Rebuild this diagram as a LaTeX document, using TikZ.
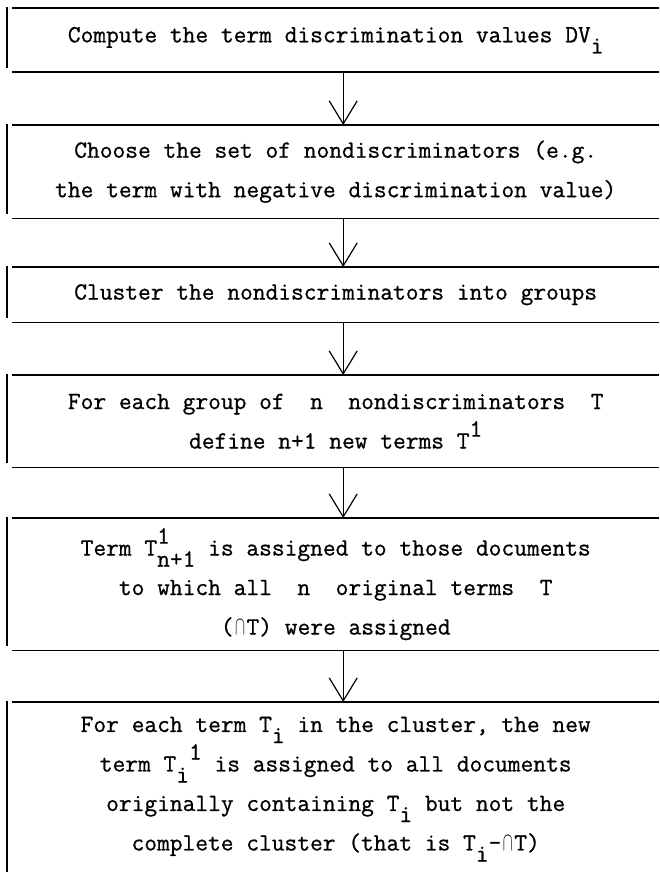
\documentclass[tikz,border=0pt]{standalone}
\usepackage{fontspec}
\usepackage{graphicx}
\usepackage{tikz}
\usetikzlibrary{arrows.meta, calc}
\newfontfamily\typeface[FakeBold=0.8]{Latin Modern Mono}
\newcommand{\sublow}[1]{\raisebox{-.45em}{#1}}
\newcommand{\suphigh}[1]{\raisebox{.48em}{#1}}
\newcommand{\intsec}{\makebox[.525em]{\scalebox{.6}[1.05]{$\cap$}}}
\newcommand{\typed}{\fontsize{24.76}{39.5}\selectfont\typeface}
\tikzset{
    stage/.style = {anchor=north west, minimum width=647pt, minimum height=#1,
        inner sep=0pt, align=center, font=\typed},
    rule/.style  = {line width=1.8pt},
    side/.style  = {line width=1.3pt},
    flow/.style  = {line width=1.2pt, -{Straight Barb[length=23pt,width=28pt]}},
}

\begin{document}
\begin{tikzpicture}[x=1pt,y=-1pt]
\useasboundingbox (0,0) rectangle (659,872);

\node[stage=64pt]  (compute) at (12,8)   {Compute the term discrimination values DV\sublow{i}};
\node[stage=93pt]  (choose)  at (12,125) {Choose the set of nondiscriminators (e.g.\\the term with negative discrimination value)};
\node[stage=55pt]  (cluster) at (12,267) {Cluster the nondiscriminators into groups};
\node[stage=92pt]  (define)  at (12,375) {For each group of~~n~~nondiscriminators~~T\\define n+1 new terms T\suphigh{1}};
\node[stage=132pt] (assign)  at (12,518) {Term T\rlap{\suphigh{1}}\sublow{n+1} is assigned to those documents\\to which all~~n~~original terms~~T\\(\intsec T) were assigned};
\node[stage=174pt] (split)   at (12,702) {For each term T\sublow{i} in the cluster, the new\\term T\sublow{i}\suphigh{1} is assigned to all documents\\originally containing T\sublow{i} but not the\\complete cluster (that is T\sublow{i}-\intsec T)};

\foreach \b in {compute,choose,cluster,define,assign,split} {
    \draw[rule] (\b.north west) -- (\b.north east);
    \draw[side] ([xshift=-5pt,yshift=1pt]\b.north west) -- ([xshift=-5pt,yshift=4pt]\b.south west);
}
\foreach \b in {compute,choose,cluster,define,assign}
    \draw[rule] (\b.south west) -- (\b.south east);

\foreach \a/\b in {compute/choose,choose/cluster,cluster/define,define/assign,assign/split}
    \draw[flow] ([xshift=7.5pt]\a.south) -- ([xshift=7.5pt]\b.north);
\end{tikzpicture}
\end{document}
